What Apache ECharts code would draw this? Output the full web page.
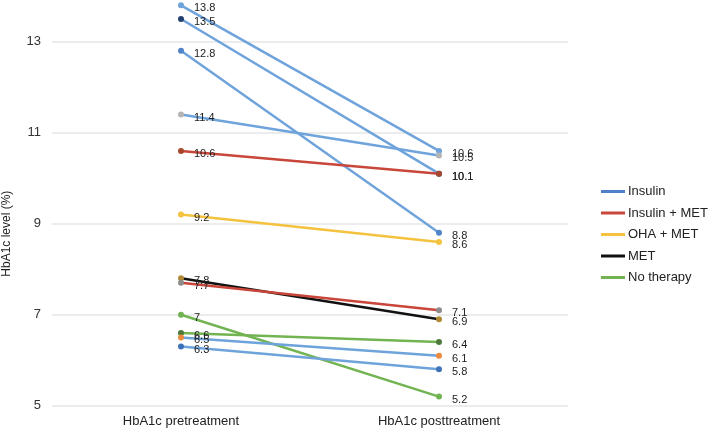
<!DOCTYPE html>
<html>
<head>
<meta charset="utf-8">
<script src="https://cdn.jsdelivr.net/npm/echarts@6/dist/echarts.min.js"></script>
<style>html,body{margin:0;padding:0;background:#fff;}#c{width:709px;height:429px;}</style>
</head>
<body>
<div id="c"></div>
<script>
// ---- data ----
var categories = ['HbA1c pretreatment', 'HbA1c posttreatment'];
var groups = ['Insulin', 'Insulin + MET', 'OHA + MET', 'MET', 'No therapy'];
var patientGroup = ['Insulin','Insulin','Insulin','Insulin','Insulin + MET','OHA + MET','MET','Insulin + MET','No therapy','No therapy','Insulin','Insulin'];
var preValues  = [13.8, 13.5, 12.8, 11.4, 10.6, 9.2, 7.8, 7.7, 7.0, 6.6, 6.5, 6.3];
var postValues = [10.6, 10.1, 8.8, 10.5, 10.1, 8.6, 6.9, 7.1, 5.2, 6.4, 6.1, 5.8];
var yTicks = [5, 7, 9, 11, 13];

// ---- styles ----
var groupLineColors = {'Insulin':'#6fa3db','Insulin + MET':'#c8463a','OHA + MET':'#f4c23f','MET':'#111111','No therapy':'#72b352'};
var legendColors = {'Insulin':'#4f7fc9','Insulin + MET':'#c8463a','OHA + MET':'#f4c23f','MET':'#111111','No therapy':'#72b352'};
var markerColors = ['#6fa3db','#24406f','#4f84c9','#b5b5b5','#a9472c','#f4c23f','#b08a35','#8c8c8c','#72b352','#4d7a3a','#ee8a3c','#3f73b8'];

var series = preValues.map(function (v, i) {
  return {
    name: patientGroup[i],
    type: 'line',
    clip: false,
    data: [v, postValues[i]],
    symbol: 'circle',
    symbolSize: 6,
    lineStyle: { color: groupLineColors[patientGroup[i]], width: 2.5 },
    itemStyle: { color: markerColors[i] },
    label: {
      show: true, position: 'right', distance: 10, offset: [0, 3],
      fontSize: 11, color: '#222', fontFamily: 'Liberation Sans, Arial, sans-serif',
      formatter: function (p) { return String(p.value); }
    },
    emphasis: { disabled: true },
    animation: false,
    z: 2
  };
});

var chart = echarts.init(document.getElementById('c'), null, { renderer: 'canvas' });
chart.setOption({
  backgroundColor: '#fff',
  animation: false,
  textStyle: { fontFamily: 'Liberation Sans, Arial, sans-serif' },
  grid: { left: 52, right: 141, top: 41.7, bottom: 23.3, containLabel: false, outerBoundsMode: 'none' },
  legend: {
    orient: 'vertical', left: 596, top: 180,
    itemWidth: 24, itemHeight: 3, itemGap: 8.5,
    icon: 'rect',
    textStyle: { fontSize: 13, color: '#222', padding: [0,0,0,-2] },
    data: groups.map(function (g) { return { name: g, itemStyle: { color: legendColors[g] } }; })
  },
  xAxis: {
    type: 'category', data: categories, boundaryGap: true,
    axisLine: { show: false }, axisTick: { show: false },
    axisLabel: { fontSize: 13, color: '#222', margin: 9 }
  },
  yAxis: {
    type: 'value', min: yTicks[0], max: yTicks[yTicks.length - 1], interval: 2,
    name: 'HbA1c level (%)', nameLocation: 'middle', nameGap: 39,
    nameTextStyle: { fontSize: 12, color: '#222', padding: [0, 20, 0, 0] },
    axisLine: { show: false }, axisTick: { show: false },
    axisLabel: { fontSize: 13, color: '#333', margin: 11 },
    splitLine: { lineStyle: { color: '#e6e6e6', width: 1.5 } }
  },
  series: series
});
</script>
</body>
</html>
